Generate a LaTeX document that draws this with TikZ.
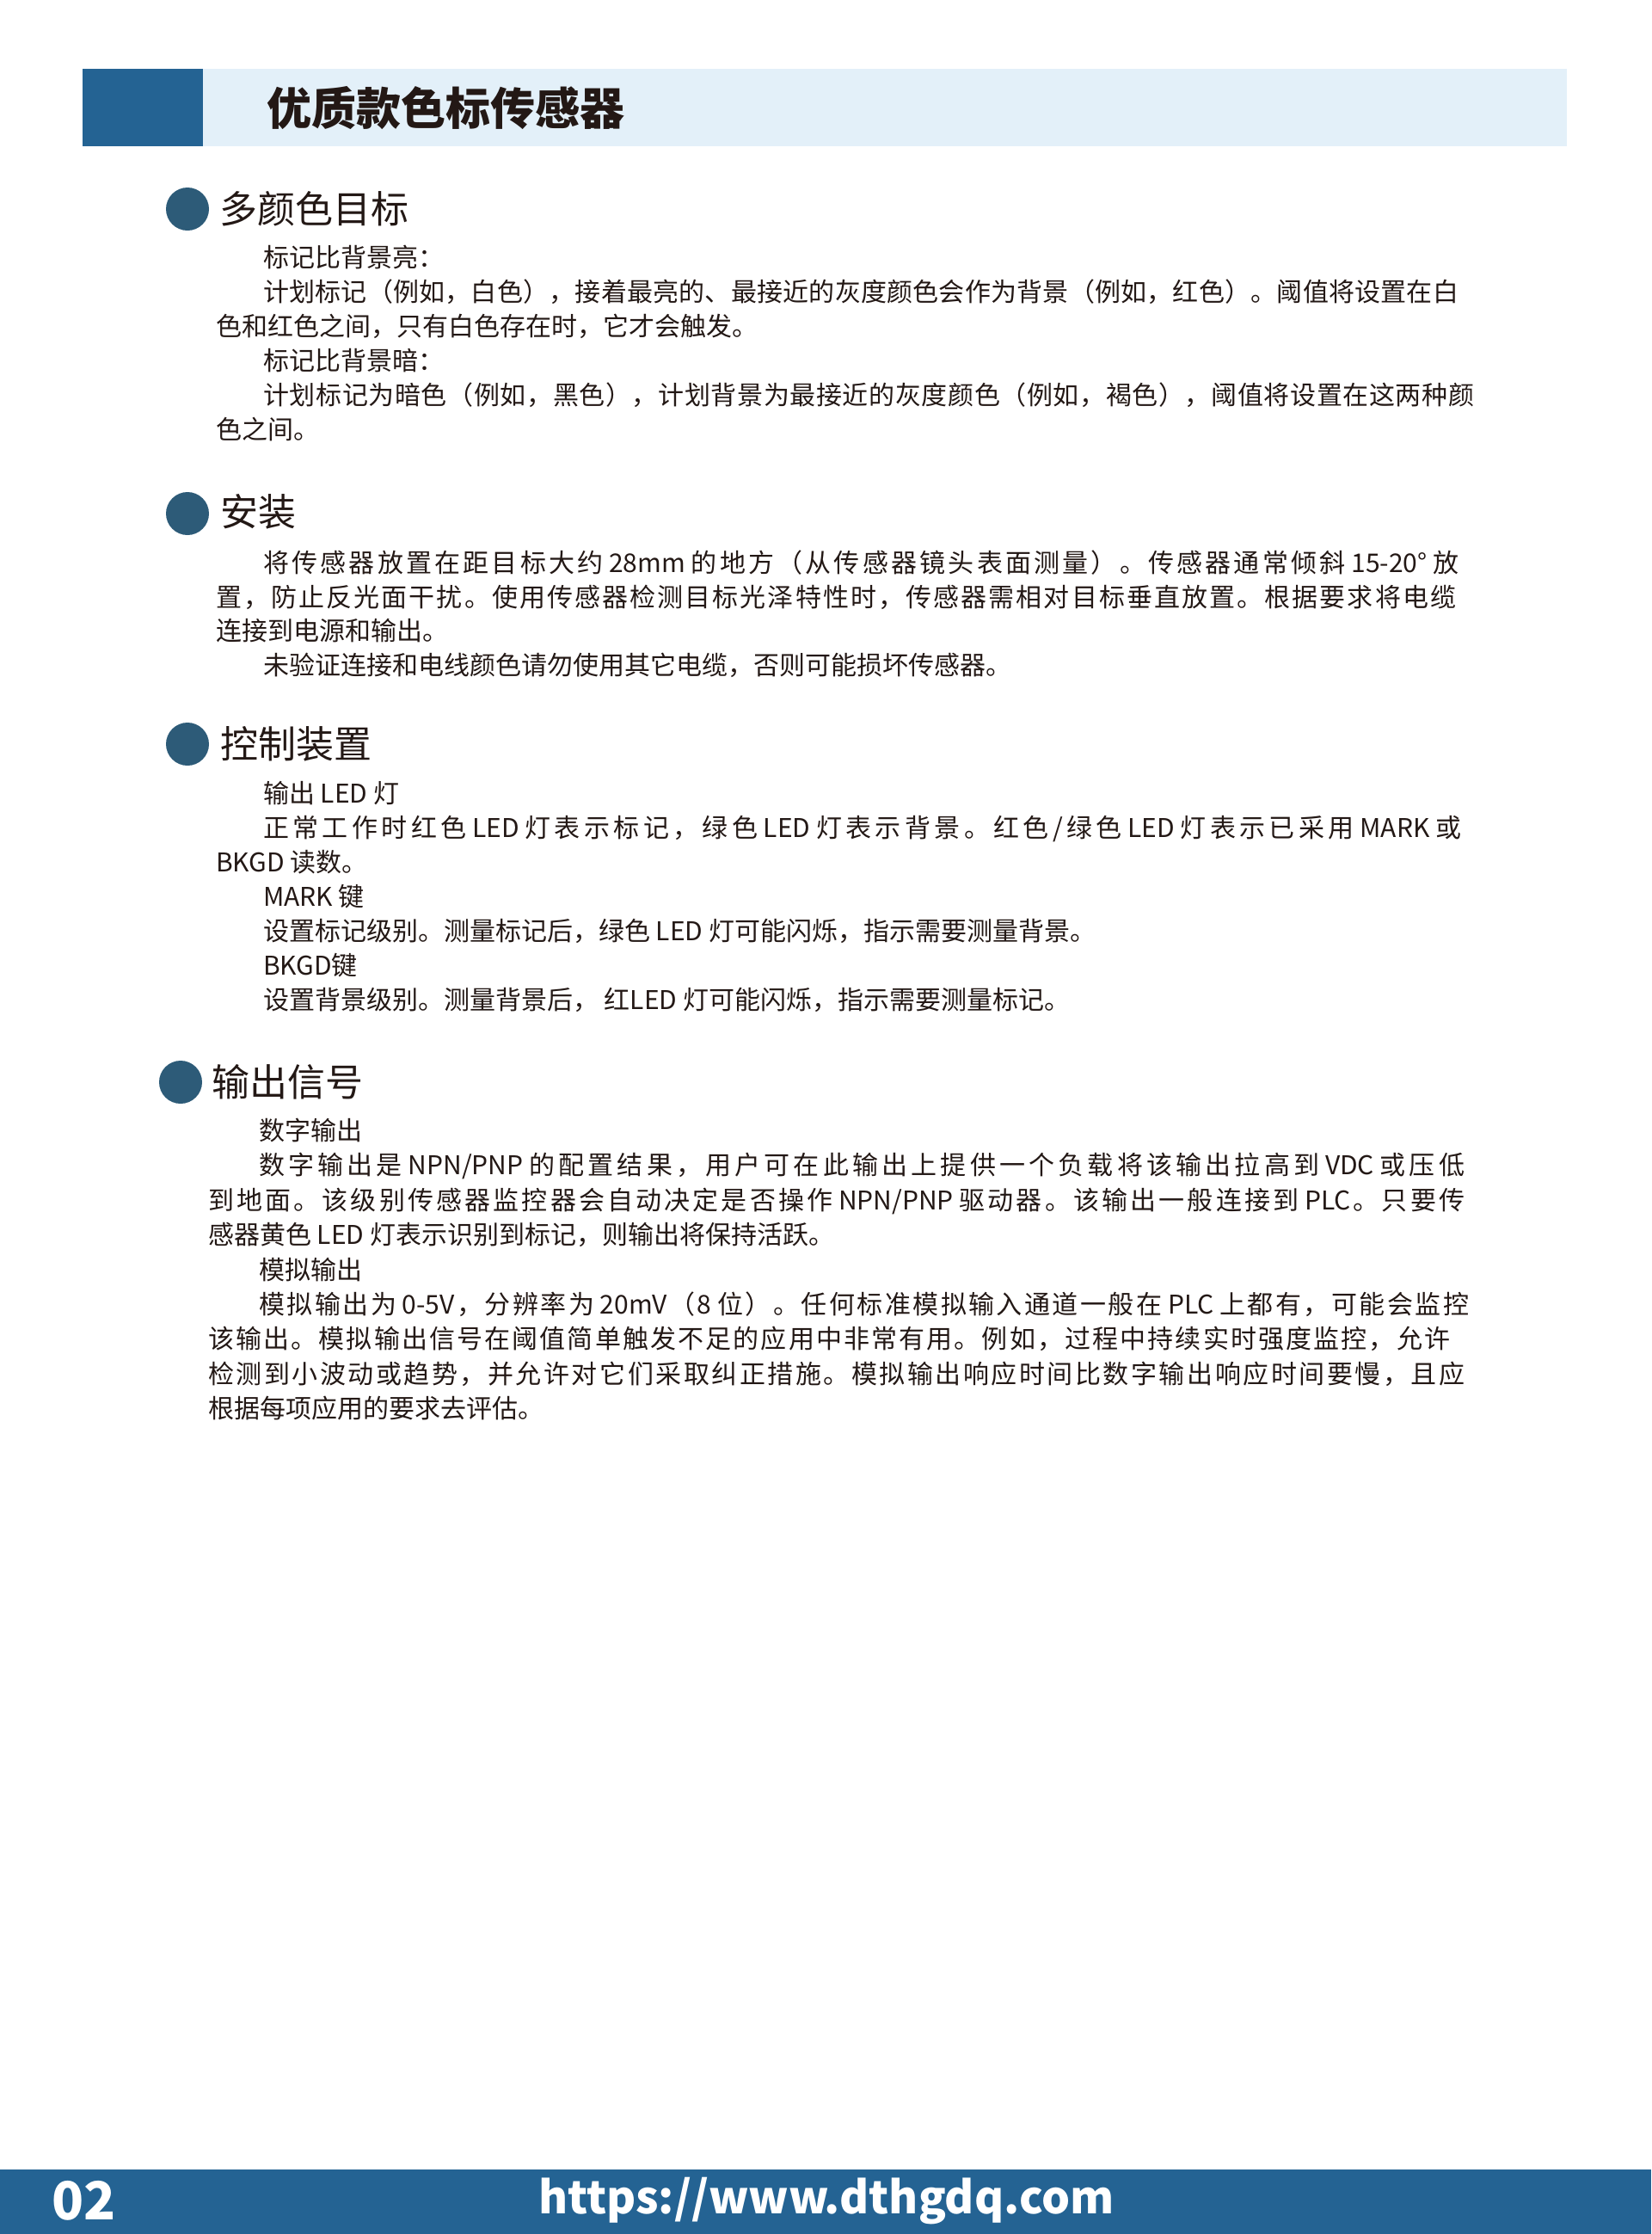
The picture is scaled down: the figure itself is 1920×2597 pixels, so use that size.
\documentclass[tikz,border=0pt]{standalone}
\usepackage{fontspec}
\setmainfont{Noto Sans CJK SC}
\definecolor{ink}{HTML}{231815}
\definecolor{hdrdark}{HTML}{246393}
\definecolor{hdrlight}{HTML}{E3F0F9}
\definecolor{dotblue}{HTML}{2D5B78}
\newcount\cjkc
\cjkc="3000 \loop \XeTeXcharclass\cjkc=1 \ifnum\cjkc<"303F \advance\cjkc by 1 \repeat
\cjkc="4E00 \loop \XeTeXcharclass\cjkc=1 \ifnum\cjkc<"9FFF \advance\cjkc by 1 \repeat
\cjkc="FF00 \loop \XeTeXcharclass\cjkc=1 \ifnum\cjkc<"FFEF \advance\cjkc by 1 \repeat
\XeTeXinterchartokenstate=1
\newcommand\cjkglue{\hskip0pt plus 1fil\relax}
\XeTeXinterchartoks 1 1={\cjkglue}
\XeTeXinterchartoks 0 1={\cjkglue}
\XeTeXinterchartoks 1 0={\cjkglue}
\newcommand\justline[2]{\hbox to #1pt{#2}}
\tikzset{
  body/.style={anchor=base west, inner sep=0pt, text=ink, font=\fontsize{30}{40}\selectfont},
  head/.style={anchor=base west, inner sep=0pt, text=ink, font=\fontsize{44}{50}\selectfont},
  dot/.style={circle, fill=dotblue, minimum size=50pt, inner sep=0pt},
  bar/.style={anchor=north west, inner sep=0pt, draw=none},
}
\begin{document}
\begin{tikzpicture}[x=1pt,y=-1pt]
\useasboundingbox (0,0) rectangle (1920,2597);
% header
\node[bar, fill=hdrlight, minimum width=1726pt, minimum height=90pt] (hdr) at (96,80) {};
\node[bar, fill=hdrdark, minimum width=140pt, minimum height=90pt] (hdrtab) at (96,80) {};
\node[anchor=base west, inner sep=0pt, text=ink, font=\fontsize{52}{60}\selectfont\bfseries] (title) at (310,145) {优质款色标传感器};
% section 1
\node[dot] (d1) at (218,243) {};
\node[head] (h1) at (255,259) {多颜色目标};
\node[body] (s1a) at (306,310) {标记比背景亮：};
\node[body] (s1b) at (306,350) {\justline{1390}{计划标记（例如，白色），接着最亮的、最接近的灰度颜色会作为背景（例如，红色）。阈值将设置在白}};
\node[body] (s1c) at (251,390) {色和红色之间，只有白色存在时，它才会触发。};
\node[body] (s1d) at (306,430) {标记比背景暗：};
\node[body] (s1e) at (306,470) {\justline{1408}{计划标记为暗色（例如，黑色），计划背景为最接近的灰度颜色（例如，褐色），阈值将设置在这两种颜}};
\node[body] (s1f) at (251,510) {色之间。};
% section 2
\node[dot] (d2) at (218,597) {};
\node[head] (h2) at (256,611) {安装};
\node[body] (s2a) at (306,665.5) {\justline{1390}{将传感器放置在距目标大约 28mm 的地方（从传感器镜头表面测量）。传感器通常倾斜 15-20° 放}};
\node[body] (s2b) at (251,705) {\justline{1442}{置，防止反光面干扰。使用传感器检测目标光泽特性时，传感器需相对目标垂直放置。根据要求将电缆}};
\node[body] (s2c) at (251,744.5) {连接到电源和输出。};
\node[body] (s2d) at (306,784) {未验证连接和电线颜色请勿使用其它电缆，否则可能损坏传感器。};
% section 3
\node[dot] (d3) at (218,865) {};
\node[head] (h3) at (256,881) {控制装置};
\node[body] (s3a) at (306,933.5) {输出 LED 灯};
\node[body] (s3b) at (306,973.5) {\justline{1393}{正常工作时红色 LED 灯表示标记，绿色 LED 灯表示背景。红色/绿色 LED 灯表示已采用 MARK 或}};
\node[body] (s3c) at (251,1013.5) {BKGD 读数。};
\node[body] (s3d) at (306,1053.5) {MARK 键};
\node[body] (s3e) at (306,1093.5) {设置标记级别。测量标记后，绿色 LED 灯可能闪烁，指示需要测量背景。};
\node[body] (s3f) at (306,1133.5) {BKGD键};
\node[body] (s3g) at (306,1173.5) {设置背景级别。测量背景后， 红LED 灯可能闪烁，指示需要测量标记。};
% section 4
\node[dot] (d4) at (210,1258) {};
\node[head] (h4) at (246,1274) {输出信号};
\node[body] (s4a) at (301,1325.5) {数字输出};
\node[body] (s4b) at (301,1365.9) {\justline{1402}{数字输出是 NPN/PNP 的配置结果，用户可在此输出上提供一个负载将该输出拉高到 VDC 或压低}};
\node[body] (s4c) at (242,1406.3) {\justline{1461}{到地面。该级别传感器监控器会自动决定是否操作 NPN/PNP 驱动器。该输出一般连接到 PLC。只要传}};
\node[body] (s4d) at (242,1446.7) {感器黄色 LED 灯表示识别到标记，则输出将保持活跃。};
\node[body] (s4e) at (301,1487.1) {模拟输出};
\node[body] (s4f) at (301,1527.5) {\justline{1407}{模拟输出为 0-5V，分辨率为 20mV（8 位）。任何标准模拟输入通道一般在 PLC 上都有，可能会监控}};
\node[body] (s4g) at (242,1567.9) {\justline{1444}{该输出。模拟输出信号在阈值简单触发不足的应用中非常有用。例如，过程中持续实时强度监控，允许}};
\node[body] (s4h) at (242,1608.3) {\justline{1461}{检测到小波动或趋势，并允许对它们采取纠正措施。模拟输出响应时间比数字输出响应时间要慢，且应}};
\node[body] (s4i) at (242,1648.7) {根据每项应用的要求去评估。};
% footer
\node[bar, fill=hdrdark, minimum width=1920pt, minimum height=75pt] (footer) at (0,2522) {};
\node[anchor=base west, inner sep=0pt, text=white, font=\fontsize{61}{70}\selectfont\bfseries] (pageno) at (60,2580) {02};
\node[anchor=base west, inner sep=0pt, text=white, font=\fontsize{52}{60}\selectfont\bfseries] (url) at (626,2573) {https://www.dthgdq.com};
\end{tikzpicture}
\end{document}
